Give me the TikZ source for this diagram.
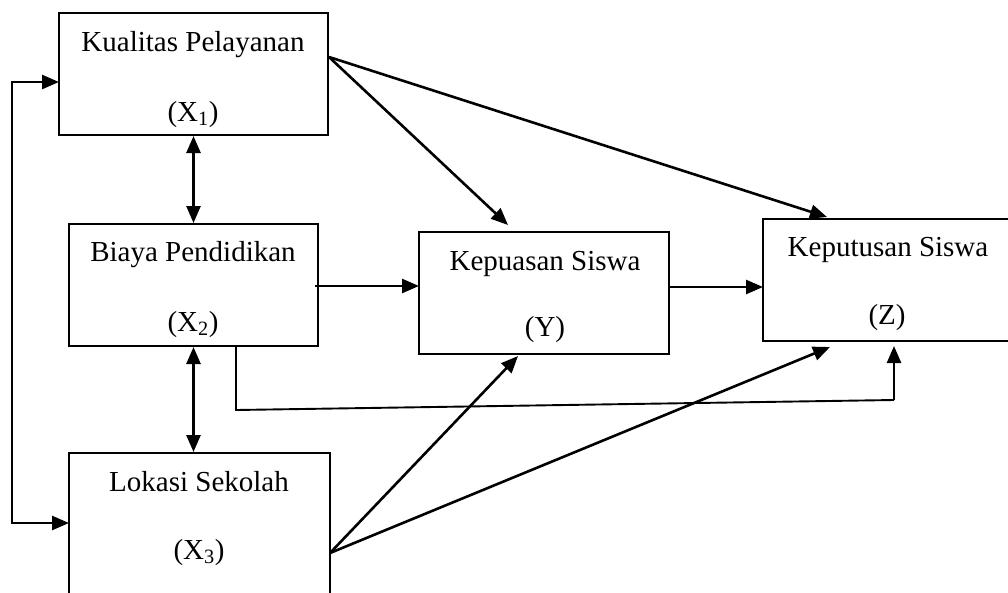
\documentclass[tikz,border=0pt]{standalone}
\usepackage{fontspec}
\setmainfont{Liberation Serif}
\usetikzlibrary{arrows.meta,calc}
\begin{document}
\begin{tikzpicture}[x=1pt,y=-1pt,
  box/.style={draw,line width=2pt,inner sep=0pt,fill=none},
  lbl/.style={font=\fontsize{29}{33}\selectfont,inner sep=0pt,anchor=base},
  arr/.style={line width=2.6pt,-{Triangle[length=17pt,width=14pt]}},
  darr/.style={line width=2.6pt,{Triangle[length=17pt,width=14pt]}-{Triangle[length=17pt,width=14pt]}},
  ln/.style={line width=1.9pt}]
\useasboundingbox (0,0) rectangle (1008,592);
% boxes
\node[box,minimum width=269pt,minimum height=122pt] (X1) at (193.5,74) {};
\node[box,minimum width=249pt,minimum height=122pt] (X2) at (193.5,285) {};
\node[box,minimum width=261pt,minimum height=145pt] (X3) at (199.5,525.5) {};
\node[box,minimum width=250pt,minimum height=122pt] (Y) at (544,293) {};
\node[box,minimum width=250pt,minimum height=122pt] (Z) at (888,280) {};
% texts
\node[lbl] (t1a) at (193,51) {Kualitas Pelayanan};
\node[lbl] (t1b) at (193,121) {(X\textsubscript{1})};
\node[lbl] (t2a) at (193,261) {Biaya Pendidikan};
\node[lbl] (t2b) at (193,331) {(X\textsubscript{2})};
\node[lbl] (t3a) at (199,491) {Lokasi Sekolah};
\node[lbl] (t3b) at (199,559) {(X\textsubscript{3})};
\node[lbl] (tya) at (545,270) {Kepuasan Siswa};
\node[lbl] (tyb) at (545,336) {(Y)};
\node[lbl] (tza) at (888,256) {Keputusan Siswa};
\node[lbl] (tzb) at (887,324) {(Z)};
% connection points
\coordinate (x1o) at (329,57);
\coordinate (yin1) at (508,225);
\coordinate (zin1) at (827,217);
\coordinate (x2o) at (315,286);
\coordinate (yin2) at (419,286);
\coordinate (yo) at (669,287);
\coordinate (zin2) at (763,287);
\coordinate (x3o) at (330,553);
\coordinate (yin3) at (518,356);
\coordinate (zin3) at (830,347);
\coordinate (x2b) at (236,346);
\coordinate (c1) at (236,410);
\coordinate (c2) at (894,400);
\coordinate (zin4) at (894,346);
\coordinate (l1) at (12,82);
\coordinate (l2) at (12,523);
\coordinate (x1l) at (59,82);
\coordinate (x3l) at (69,523);
% connectors
\draw[darr] (X1.south) -- (X2.north);
\draw[darr] (X2.south) -- (X2.south |- X3.north);
\draw[arr] (x1o) -- (yin1);
\draw[arr] (x1o) -- (zin1);
\draw[arr] (x2o) -- (yin2);
\draw[arr] (yo) -- (zin2);
\draw[arr] (x3o) -- (yin3);
\draw[arr] (x3o) -- (zin3);
\draw[ln] (x2b) -- (c1) -- (c2);
\draw[arr] (c2) -- (zin4);
\draw[darr] (x1l) -- (l1) -- (l2) -- (x3l);
\end{tikzpicture}
\end{document}
